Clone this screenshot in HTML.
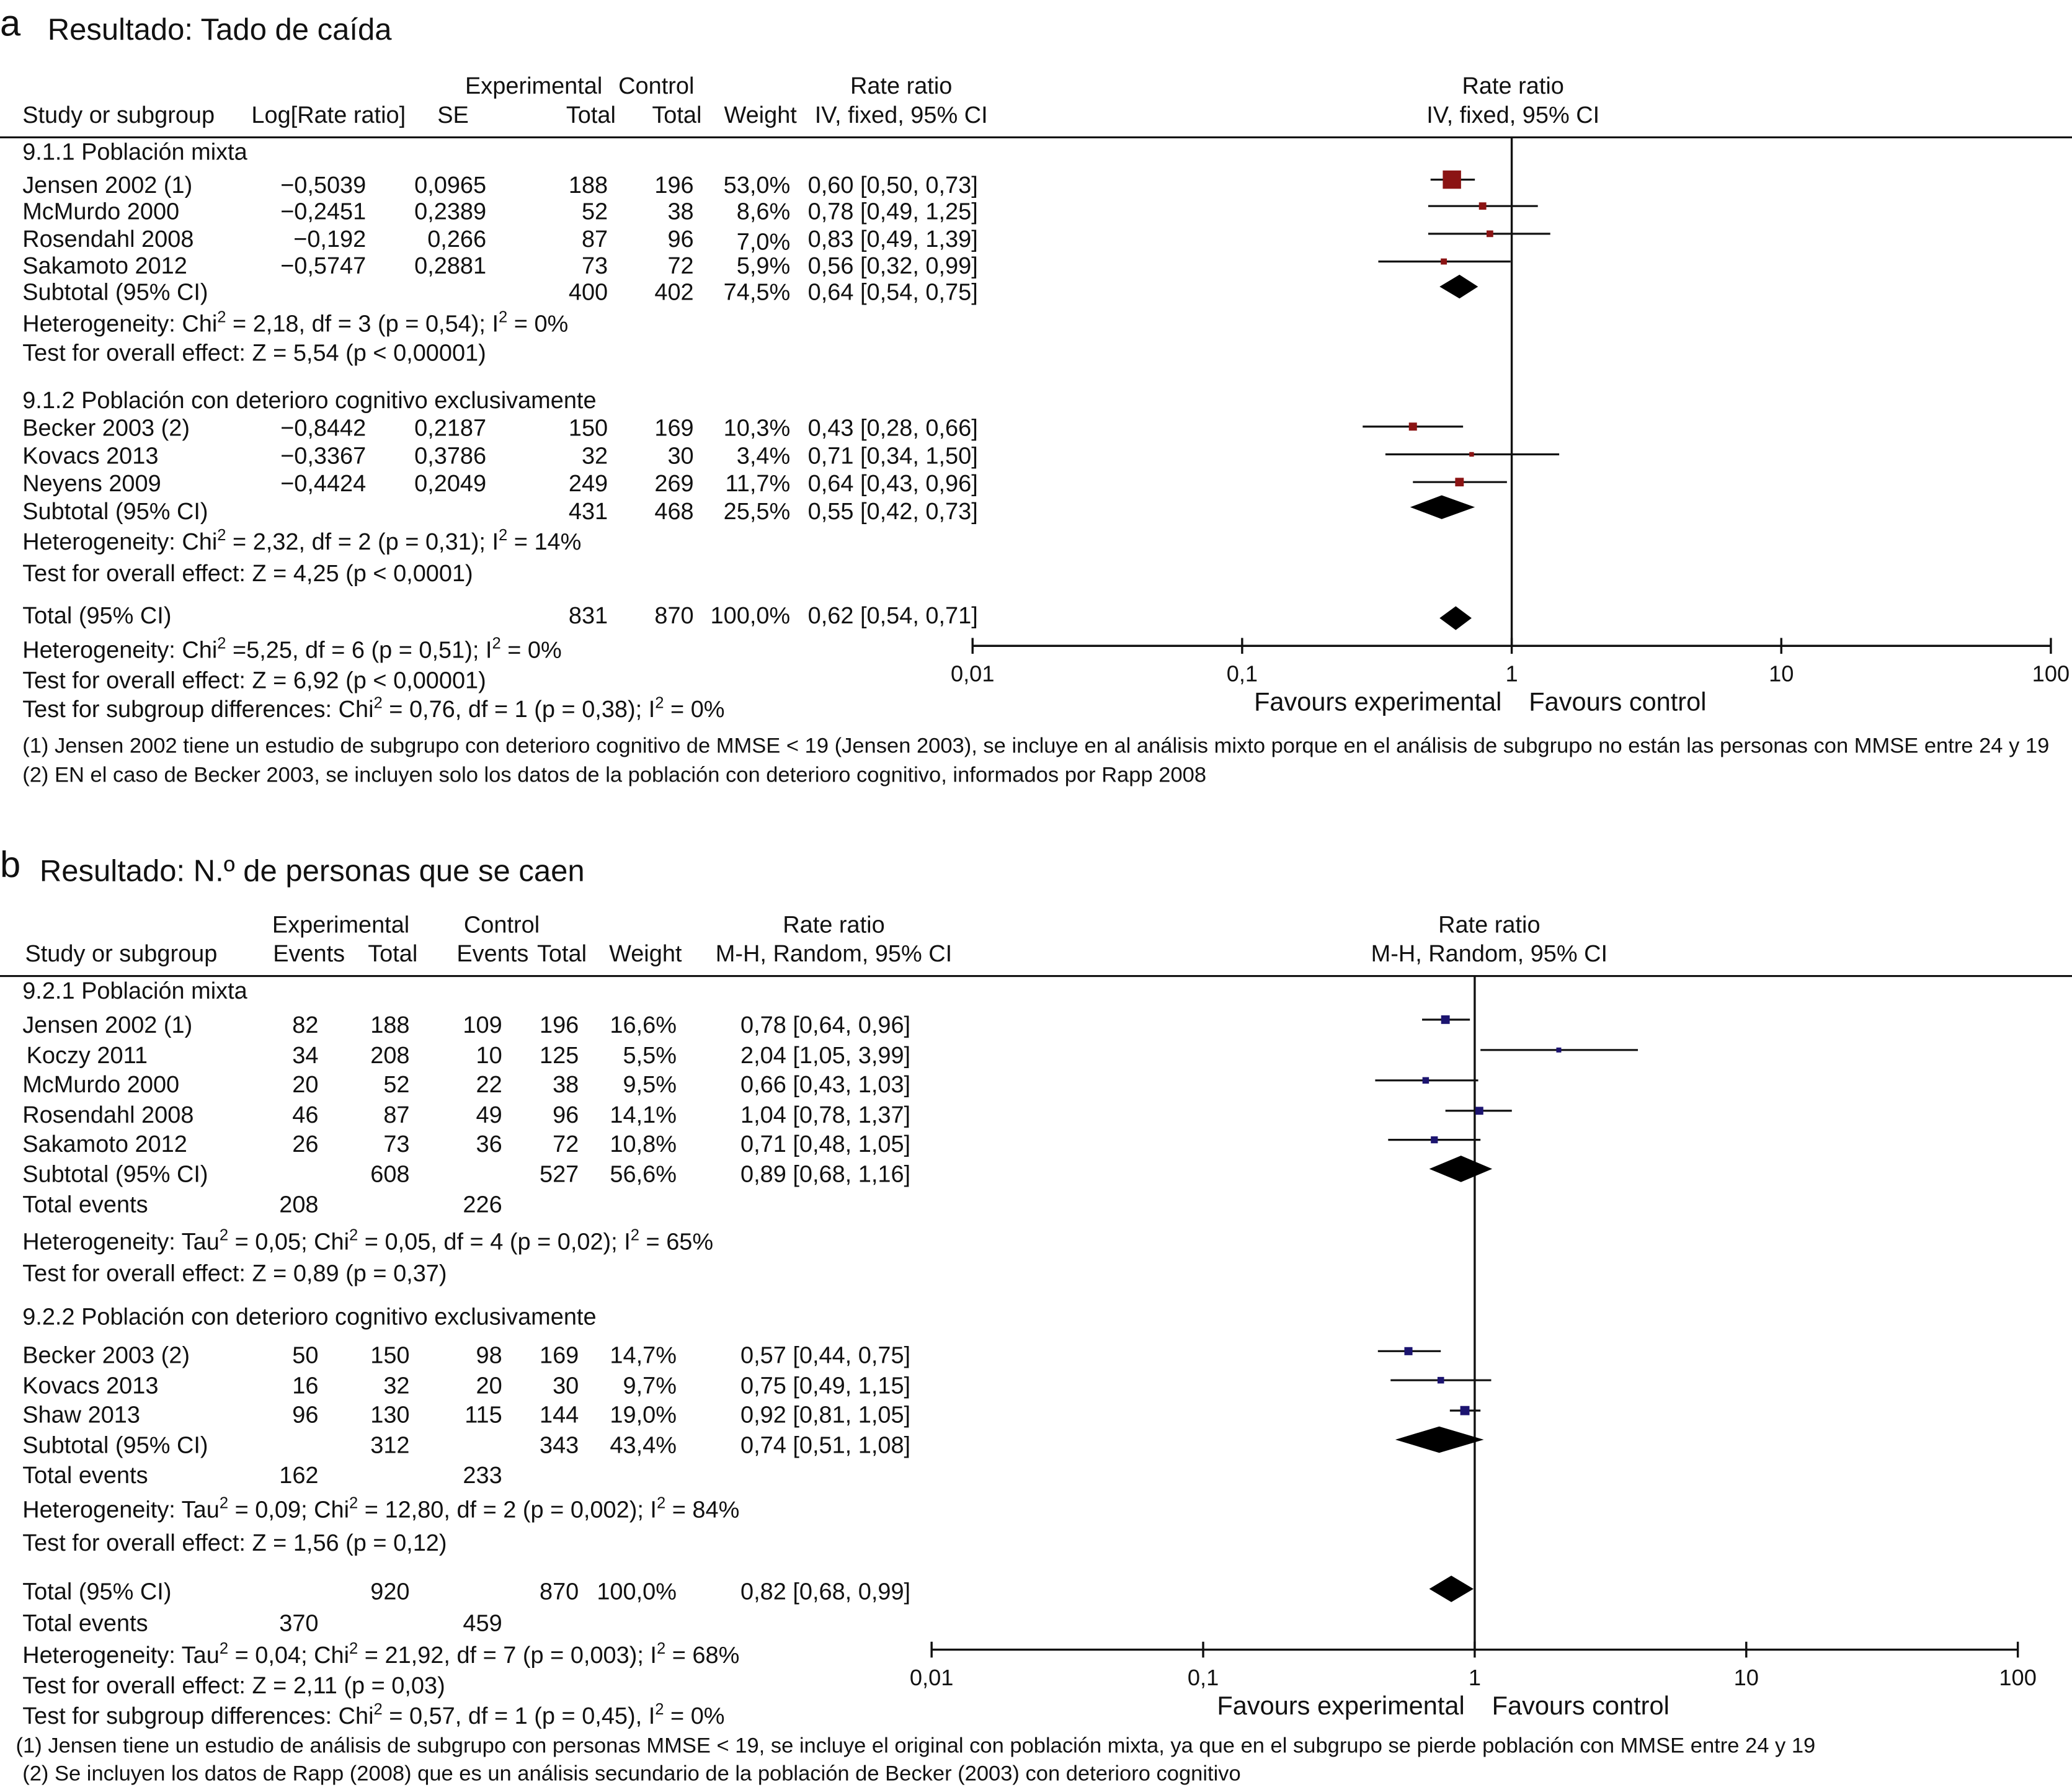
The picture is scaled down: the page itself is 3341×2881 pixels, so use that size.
<!DOCTYPE html>
<html><head><meta charset="utf-8"><style>
html,body{margin:0;padding:0;background:#fff}
svg{display:block}
text{font-family:"Liberation Sans",sans-serif;font-size:17.8px;fill:#111}
tspan[font-size]{font-size:12px}
.t{font-size:23px}
.big{font-size:28px}
.r{text-anchor:end}
.m{text-anchor:middle}
.fn{font-size:16.2px}
.fv{font-size:19.5px}
</style></head><body>
<svg id="fig" width="3341" height="2881" viewBox="0 0 1568 1353" preserveAspectRatio="none" xmlns="http://www.w3.org/2000/svg">
<g>
<text class="big" x="0" y="27">a</text>
<text class="t" x="36" y="30">Resultado: Tado de caída</text>
<text x="352" y="71">Experimental</text><text x="468" y="71">Control</text>
<text class="m" x="682" y="71">Rate ratio</text><text class="m" x="1145" y="71">Rate ratio</text>
<text x="17" y="93">Study or subgroup</text><text class="r" x="307" y="93">Log[Rate ratio]</text>
<text x="331" y="93">SE</text><text class="r" x="466" y="93">Total</text><text class="r" x="531" y="93">Total</text>
<text class="r" x="603" y="93">Weight</text><text class="m" x="682" y="93">IV, fixed, 95% CI</text>
<text class="m" x="1145" y="93">IV, fixed, 95% CI</text>
<line x1="0" y1="104" x2="1568" y2="104" stroke="#111" stroke-width="1.5"/>
<text x="17" y="121">9.1.1 Población mixta</text>
<g>
<text x="17" y="146">Jensen 2002 (1)</text><text class="r" x="277" y="146">−0,5039</text><text class="r" x="368" y="146">0,0965</text><text class="r" x="460" y="146">188</text><text class="r" x="525" y="146">196</text><text class="r" x="598" y="146">53,0%</text><text class="r" x="740" y="146">0,60 [0,50, 0,73]</text>
<text x="17" y="166">McMurdo 2000</text><text class="r" x="277" y="166">−0,2451</text><text class="r" x="368" y="166">0,2389</text><text class="r" x="460" y="166">52</text><text class="r" x="525" y="166">38</text><text class="r" x="598" y="166">8,6%</text><text class="r" x="740" y="166">0,78 [0,49, 1,25]</text>
<text x="17" y="187">Rosendahl 2008</text><text class="r" x="277" y="187">−0,192</text><text class="r" x="368" y="187">0,266</text><text class="r" x="460" y="187">87</text><text class="r" x="525" y="187">96</text><text class="r" x="598" y="189">7,0%</text><text class="r" x="740" y="187">0,83 [0,49, 1,39]</text>
<text x="17" y="207">Sakamoto 2012</text><text class="r" x="277" y="207">−0,5747</text><text class="r" x="368" y="207">0,2881</text><text class="r" x="460" y="207">73</text><text class="r" x="525" y="207">72</text><text class="r" x="598" y="207">5,9%</text><text class="r" x="740" y="207">0,56 [0,32, 0,99]</text>
<text x="17" y="227">Subtotal (95% CI)</text><text class="r" x="460" y="227">400</text><text class="r" x="525" y="227">402</text><text class="r" x="598" y="227">74,5%</text><text class="r" x="740" y="227">0,64 [0,54, 0,75]</text>
<text x="17" y="251">Heterogeneity: Chi<tspan dy="-7" font-size="12">2</tspan><tspan dy="7"> = 2,18, df = 3 (p = 0,54); I</tspan><tspan dy="-7" font-size="12">2</tspan><tspan dy="7"> = 0%</tspan></text>
<text x="17" y="273">Test for overall effect: Z = 5,54 (p &lt; 0,00001)</text>
<text x="17" y="309">9.1.2 Población con deterioro cognitivo exclusivamente</text>
<text x="17" y="330">Becker 2003 (2)</text><text class="r" x="277" y="330">−0,8442</text><text class="r" x="368" y="330">0,2187</text><text class="r" x="460" y="330">150</text><text class="r" x="525" y="330">169</text><text class="r" x="598" y="330">10,3%</text><text class="r" x="740" y="330">0,43 [0,28, 0,66]</text>
<text x="17" y="351">Kovacs 2013</text><text class="r" x="277" y="351">−0,3367</text><text class="r" x="368" y="351">0,3786</text><text class="r" x="460" y="351">32</text><text class="r" x="525" y="351">30</text><text class="r" x="598" y="351">3,4%</text><text class="r" x="740" y="351">0,71 [0,34, 1,50]</text>
<text x="17" y="372">Neyens 2009</text><text class="r" x="277" y="372">−0,4424</text><text class="r" x="368" y="372">0,2049</text><text class="r" x="460" y="372">249</text><text class="r" x="525" y="372">269</text><text class="r" x="598" y="372">11,7%</text><text class="r" x="740" y="372">0,64 [0,43, 0,96]</text>
<text x="17" y="393">Subtotal (95% CI)</text><text class="r" x="460" y="393">431</text><text class="r" x="525" y="393">468</text><text class="r" x="598" y="393">25,5%</text><text class="r" x="740" y="393">0,55 [0,42, 0,73]</text>
<text x="17" y="416">Heterogeneity: Chi<tspan dy="-7" font-size="12">2</tspan><tspan dy="7"> = 2,32, df = 2 (p = 0,31); I</tspan><tspan dy="-7" font-size="12">2</tspan><tspan dy="7"> = 14%</tspan></text>
<text x="17" y="440">Test for overall effect: Z = 4,25 (p &lt; 0,0001)</text>
<text x="17" y="472">Total (95% CI)</text><text class="r" x="460" y="472">831</text><text class="r" x="525" y="472">870</text><text class="r" x="598" y="472">100,0%</text><text class="r" x="740" y="472">0,62 [0,54, 0,71]</text>
<text x="17" y="498">Heterogeneity: Chi<tspan dy="-7" font-size="12">2</tspan><tspan dy="7"> =5,25, df = 6 (p = 0,51); I</tspan><tspan dy="-7" font-size="12">2</tspan><tspan dy="7"> = 0%</tspan></text>
<text x="17" y="521">Test for overall effect: Z = 6,92 (p &lt; 0,00001)</text>
<text x="17" y="543">Test for subgroup differences: Chi<tspan dy="-7" font-size="12">2</tspan><tspan dy="7"> = 0,76, df = 1 (p = 0,38); I</tspan><tspan dy="-7" font-size="12">2</tspan><tspan dy="7"> = 0%</tspan></text>
<text class="fn" x="17" y="570">(1) Jensen 2002 tiene un estudio de subgrupo con deterioro cognitivo de MMSE &lt; 19 (Jensen 2003), se incluye en al análisis mixto porque en el análisis de subgrupo no están las personas con MMSE entre 24 y 19</text>
<text class="fn" x="17" y="592">(2) EN el caso de Becker 2003, se incluyen solo los datos de la población con deterioro cognitivo, informados por Rapp 2008</text>
</g>
<text class="fv" x="949" y="538">Favours experimental</text><text class="fv" x="1157" y="538">Favours control</text>
<g id="plotA"></g>
</g>
<g>
<text class="big" x="0" y="664">b</text>
<text class="t" x="30" y="667">Resultado: N.º de personas que se caen</text>
<text x="206" y="706">Experimental</text><text x="351" y="706">Control</text>
<text class="m" x="631" y="706">Rate ratio</text><text class="m" x="1127" y="706">Rate ratio</text>
<text x="19" y="728">Study or subgroup</text><text class="r" x="261" y="728">Events</text><text class="r" x="316" y="728">Total</text>
<text class="r" x="400" y="728">Events</text><text class="r" x="444" y="728">Total</text><text class="r" x="516" y="728">Weight</text>
<text class="m" x="631" y="728">M-H, Random, 95% CI</text><text class="m" x="1127" y="728">M-H, Random, 95% CI</text>
<line x1="0" y1="739" x2="1568" y2="739" stroke="#111" stroke-width="1.5"/>
<g>
<text x="17" y="756">9.2.1 Población mixta</text>
<text x="17" y="782">Jensen 2002 (1)</text><text class="r" x="241" y="782">82</text><text class="r" x="310" y="782">188</text><text class="r" x="380" y="782">109</text><text class="r" x="438" y="782">196</text><text class="r" x="512" y="782">16,6%</text><text class="r" x="689" y="782">0,78 [0,64, 0,96]</text>
<text x="20" y="805">Koczy 2011</text><text class="r" x="241" y="805">34</text><text class="r" x="310" y="805">208</text><text class="r" x="380" y="805">10</text><text class="r" x="438" y="805">125</text><text class="r" x="512" y="805">5,5%</text><text class="r" x="689" y="805">2,04 [1,05, 3,99]</text>
<text x="17" y="827">McMurdo 2000</text><text class="r" x="241" y="827">20</text><text class="r" x="310" y="827">52</text><text class="r" x="380" y="827">22</text><text class="r" x="438" y="827">38</text><text class="r" x="512" y="827">9,5%</text><text class="r" x="689" y="827">0,66 [0,43, 1,03]</text>
<text x="17" y="850">Rosendahl 2008</text><text class="r" x="241" y="850">46</text><text class="r" x="310" y="850">87</text><text class="r" x="380" y="850">49</text><text class="r" x="438" y="850">96</text><text class="r" x="512" y="850">14,1%</text><text class="r" x="689" y="850">1,04 [0,78, 1,37]</text>
<text x="17" y="872">Sakamoto 2012</text><text class="r" x="241" y="872">26</text><text class="r" x="310" y="872">73</text><text class="r" x="380" y="872">36</text><text class="r" x="438" y="872">72</text><text class="r" x="512" y="872">10,8%</text><text class="r" x="689" y="872">0,71 [0,48, 1,05]</text>
<text x="17" y="895">Subtotal (95% CI)</text><text class="r" x="310" y="895">608</text><text class="r" x="438" y="895">527</text><text class="r" x="512" y="895">56,6%</text><text class="r" x="689" y="895">0,89 [0,68, 1,16]</text>
<text x="17" y="918">Total events</text><text class="r" x="241" y="918">208</text><text class="r" x="380" y="918">226</text>
<text x="17" y="946">Heterogeneity: Tau<tspan dy="-7" font-size="12">2</tspan><tspan dy="7"> = 0,05; Chi</tspan><tspan dy="-7" font-size="12">2</tspan><tspan dy="7"> = 0,05, df = 4 (p = 0,02); I</tspan><tspan dy="-7" font-size="12">2</tspan><tspan dy="7"> = 65%</tspan></text>
<text x="17" y="970">Test for overall effect: Z = 0,89 (p = 0,37)</text>
<text x="17" y="1003">9.2.2 Población con deterioro cognitivo exclusivamente</text>
<text x="17" y="1032">Becker 2003 (2)</text><text class="r" x="241" y="1032">50</text><text class="r" x="310" y="1032">150</text><text class="r" x="380" y="1032">98</text><text class="r" x="438" y="1032">169</text><text class="r" x="512" y="1032">14,7%</text><text class="r" x="689" y="1032">0,57 [0,44, 0,75]</text>
<text x="17" y="1055">Kovacs 2013</text><text class="r" x="241" y="1055">16</text><text class="r" x="310" y="1055">32</text><text class="r" x="380" y="1055">20</text><text class="r" x="438" y="1055">30</text><text class="r" x="512" y="1055">9,7%</text><text class="r" x="689" y="1055">0,75 [0,49, 1,15]</text>
<text x="17" y="1077">Shaw 2013</text><text class="r" x="241" y="1077">96</text><text class="r" x="310" y="1077">130</text><text class="r" x="380" y="1077">115</text><text class="r" x="438" y="1077">144</text><text class="r" x="512" y="1077">19,0%</text><text class="r" x="689" y="1077">0,92 [0,81, 1,05]</text>
<text x="17" y="1100">Subtotal (95% CI)</text><text class="r" x="310" y="1100">312</text><text class="r" x="438" y="1100">343</text><text class="r" x="512" y="1100">43,4%</text><text class="r" x="689" y="1100">0,74 [0,51, 1,08]</text>
<text x="17" y="1123">Total events</text><text class="r" x="241" y="1123">162</text><text class="r" x="380" y="1123">233</text>
<text x="17" y="1149">Heterogeneity: Tau<tspan dy="-7" font-size="12">2</tspan><tspan dy="7"> = 0,09; Chi</tspan><tspan dy="-7" font-size="12">2</tspan><tspan dy="7"> = 12,80, df = 2 (p = 0,002); I</tspan><tspan dy="-7" font-size="12">2</tspan><tspan dy="7"> = 84%</tspan></text>
<text x="17" y="1174">Test for overall effect: Z = 1,56 (p = 0,12)</text>
<text x="17" y="1211">Total (95% CI)</text><text class="r" x="310" y="1211">920</text><text class="r" x="438" y="1211">870</text><text class="r" x="512" y="1211">100,0%</text><text class="r" x="689" y="1211">0,82 [0,68, 0,99]</text>
<text x="17" y="1235">Total events</text><text class="r" x="241" y="1235">370</text><text class="r" x="380" y="1235">459</text>
<text x="17" y="1259">Heterogeneity: Tau<tspan dy="-7" font-size="12">2</tspan><tspan dy="7"> = 0,04; Chi</tspan><tspan dy="-7" font-size="12">2</tspan><tspan dy="7"> = 21,92, df = 7 (p = 0,003); I</tspan><tspan dy="-7" font-size="12">2</tspan><tspan dy="7"> = 68%</tspan></text>
<text x="17" y="1282">Test for overall effect: Z = 2,11 (p = 0,03)</text>
<text x="17" y="1305">Test for subgroup differences: Chi<tspan dy="-7" font-size="12">2</tspan><tspan dy="7"> = 0,57, df = 1 (p = 0,45), I</tspan><tspan dy="-7" font-size="12">2</tspan><tspan dy="7"> = 0%</tspan></text>
<text class="fn" x="12" y="1327">(1) Jensen tiene un estudio de análisis de subgrupo con personas MMSE &lt; 19, se incluye el original con población mixta, ya que en el subgrupo se pierde población con MMSE entre 24 y 19</text>
<text class="fn" x="17" y="1348">(2) Se incluyen los datos de Rapp (2008) que es un análisis secundario de la población de Becker (2003) con deterioro cognitivo</text>
</g>
<text class="fv" x="921" y="1298">Favours experimental</text><text class="fv" x="1129" y="1298">Favours control</text>
<g id="plotB"></g>
</g>
</svg>
<script>
// Panel a data
const aStudyRR = [0.60, 0.78, 0.83, 0.56, 0.43, 0.71, 0.64];
const aStudyLo = [0.50, 0.49, 0.49, 0.32, 0.28, 0.34, 0.43];
const aStudyHi = [0.73, 1.25, 1.39, 0.99, 0.66, 1.50, 0.96];
const aStudyW = [53.0, 8.6, 7.0, 5.9, 10.3, 3.4, 11.7];
const aStudyY = [136, 156, 177, 198, 323, 344, 365];
const aSumRR = [0.64, 0.55, 0.62];
const aSumLo = [0.54, 0.42, 0.54];
const aSumHi = [0.75, 0.73, 0.71];
const aSumY = [217, 384, 468];
// Panel b data
const bStudyRR = [0.78, 2.04, 0.66, 1.04, 0.71, 0.57, 0.75, 0.92];
const bStudyLo = [0.64, 1.05, 0.43, 0.78, 0.48, 0.44, 0.49, 0.81];
const bStudyHi = [0.96, 3.99, 1.03, 1.37, 1.05, 0.75, 1.15, 1.05];
const bStudyW = [16.6, 5.5, 9.5, 14.1, 10.8, 14.7, 9.7, 19.0];
const bStudyY = [772, 795, 818, 841, 863, 1023, 1045, 1068];
const bSumRR = [0.89, 0.74, 0.82];
const bSumLo = [0.68, 0.51, 0.68];
const bSumHi = [1.16, 1.08, 0.99];
const bSumY = [885, 1090, 1203];
const tickVals = [0.01, 0.1, 1, 10, 100];
const tickLabels = ["0,01", "0,1", "1", "10", "100"];

const NS = "http://www.w3.org/2000/svg";
function mk(parent, tag, attrs) {
  const e = document.createElementNS(NS, tag);
  for (const k in attrs) e.setAttribute(k, attrs[k]);
  parent.appendChild(e);
  return e;
}
function drawPlot(g, x0, x1, axisY, topY, rr, lo, hi, w, ys, srr, slo, shi, sy, color, k, dh) {
  const xs = v => x0 + (x1 - x0) * (Math.log10(v) + 2) / 4;
  const ref = mk(g, "line", {x1: xs(1), x2: xs(1), y1: topY, y2: axisY, stroke: "#111", "stroke-width": 1.6});
  
  
  const ax = mk(g, "line", {x1: x0, x2: x1, y1: axisY, y2: axisY, stroke: "#111", "stroke-width": 1.6});
  
  
  tickVals.forEach((v, i) => {
    const t = mk(g, "line", {x1: xs(v), x2: xs(v), y1: axisY - 6, y2: axisY + 6, stroke: "#111", "stroke-width": 1.6});
    
    
    const tl = mk(g, "text", {x: xs(v), y: axisY + 27, "text-anchor": "middle", style: "font-size:17px"});
    tl.textContent = tickLabels[i];
    
    
  });
  rr.forEach((v, i) => {
    const y = ys[i];
    const ci = mk(g, "line", {x1: xs(lo[i]), x2: xs(hi[i]), y1: y, y2: y, stroke: "#111", "stroke-width": 1.5});
    
    
    const s = Math.max(3, Math.sqrt(w[i]) * k);
    const sq = mk(g, "rect", {x: xs(v) - s / 2, y: y - s / 2, width: s, height: s, fill: color});
    
    
  });
  srr.forEach((v, i) => {
    const y = sy[i];
    const d = mk(g, "polygon", {points: `${xs(slo[i])},${y} ${xs(v)},${y - dh} ${xs(shi[i])},${y} ${xs(v)},${y + dh}`, fill: "#000"});
    
    
  });
}
drawPlot(document.getElementById("plotA"), 736, 1552, 489, 104, aStudyRR, aStudyLo, aStudyHi, aStudyW, aStudyY, aSumRR, aSumLo, aSumHi, aSumY, "#8b1414", 1.9, 9);
drawPlot(document.getElementById("plotB"), 705, 1527, 1249, 739, bStudyRR, bStudyLo, bStudyHi, bStudyW, bStudyY, bSumRR, bSumLo, bSumHi, bSumY, "#1c1470", 1.6, 10);
</script>
</body></html>
